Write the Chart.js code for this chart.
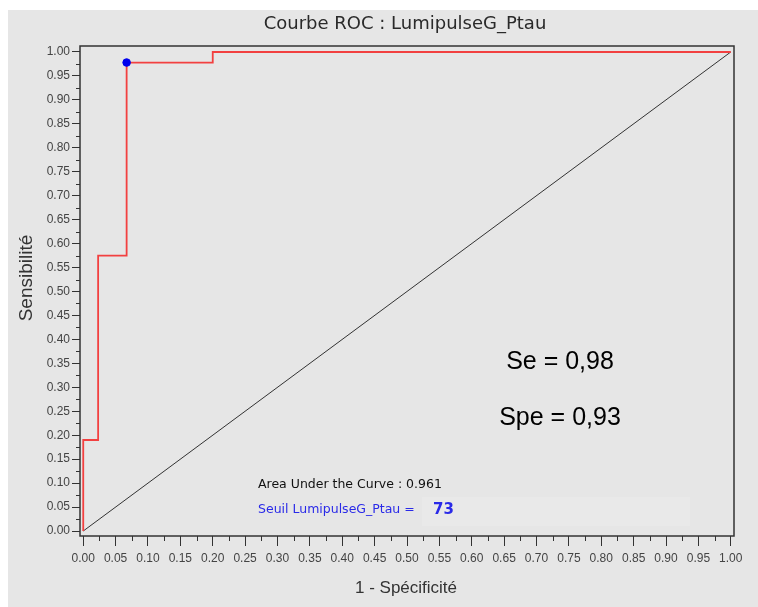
<!DOCTYPE html>
<html>
<head>
<meta charset="utf-8">
<script src="https://cdn.jsdelivr.net/npm/chart.js@4"></script>
<style>
  body { margin: 0; background: #fff; }
  #wrap { width: 758px; height: 607px; }
</style>
</head>
<body>
<div id="wrap"><canvas id="myChart" width="758" height="607"></canvas></div>
<script>
// ROC curve steps (1 - specificity, sensitivity)
const rocX = [0, 0, 0.023, 0.023, 0.067, 0.067, 0.2, 0.2, 1];
const rocY = [0, 0.19, 0.19, 0.575, 0.575, 0.978, 0.978, 1, 1];
// chance line
const diagX = [0, 1];
const diagY = [0, 1];
// chosen threshold
const cutX = [0.067];
const cutY = [0.978];
const tickLabels = ['0.00', '0.05', '0.10', '0.15', '0.20', '0.25', '0.30', '0.35', '0.40', '0.45', '0.50',
    '0.55', '0.60', '0.65', '0.70', '0.75', '0.80', '0.85', '0.90', '0.95', '1.00'];
const minorTicks = [0.025, 0.075, 0.125, 0.175, 0.225, 0.275, 0.325, 0.375, 0.425, 0.475,
    0.525, 0.575, 0.625, 0.675, 0.725, 0.775, 0.825, 0.875, 0.925, 0.975];

const pts = (xs, ys) => xs.map((x, i) => ({ x: x, y: ys[i] }));

// background, frame, minor ticks, texts
const decor = {
    id: 'decor',
    beforeDraw(chart) {
        const c = chart.ctx;
        c.save();
        c.fillStyle = '#ffffff';
        c.fillRect(0, 0, chart.width, chart.height);
        c.fillStyle = '#e6e6e6';
        c.fillRect(8, 10, chart.width - 8, chart.height - 10);
        c.fillStyle = '#e9e9e9';
        c.fillRect(422, 497, 268, 29);
        c.restore();
    },
    afterDraw(chart) {
        const c = chart.ctx;
        const a = chart.chartArea;
        const xs = chart.scales.x, ys = chart.scales.y;
        c.save();
        c.strokeStyle = '#333';
        c.lineWidth = 1.5;
        c.strokeRect(a.left, a.top, a.right - a.left, a.bottom - a.top);
        c.lineWidth = 1;
        c.beginPath();
        minorTicks.forEach(v => {
            const py = Math.round(ys.getPixelForValue(v)) + 0.5;
            c.moveTo(a.left - 4, py); c.lineTo(a.left, py);
            const px = Math.round(xs.getPixelForValue(v)) + 0.5;
            c.moveTo(px, a.bottom); c.lineTo(px, a.bottom + 5);
        });
        c.stroke();

        c.fillStyle = '#2a2a2a';
        c.textAlign = 'center';
        c.textBaseline = 'alphabetic';
        c.font = '18px "DejaVu Sans"';
        c.fillText('Courbe ROC : LumipulseG_Ptau', 405, 29);

        c.fillStyle = '#333';
        c.font = '17px "Liberation Sans", Arial';
        c.fillText('1 - Spécificité', 406, 593);
        c.save();
        c.translate(32, 278);
        c.rotate(-Math.PI / 2);
        c.font = '19px "Liberation Sans", Arial';
        c.fillText('Sensibilité', 0, 0);
        c.restore();

        c.fillStyle = '#000';
        c.font = '25px "Liberation Sans", Arial';
        c.fillText('Se = 0,98', 560, 369);
        c.fillText('Spe = 0,93', 560, 425);

        c.textAlign = 'left';
        c.font = '12.5px "DejaVu Sans"';
        c.fillStyle = '#111';
        c.fillText('Area Under the Curve : 0.961', 258, 488);
        c.fillStyle = '#2a2ae8';
        c.fillText('Seuil LumipulseG_Ptau =', 258, 513);
        c.font = 'bold 15px "DejaVu Sans"';
        c.fillText('73', 433, 514);
        c.restore();
    }
};

const data = {
    datasets: [
        {
            label: 'Seuil',
            data: pts(cutX, cutY),
            showLine: false,
            pointRadius: 3.8,
            pointBackgroundColor: '#0000ee',
            pointBorderColor: '#0000ee',
            order: 0
        },
        {
            label: 'ROC',
            data: pts(rocX, rocY),
            showLine: true,
            borderColor: '#f24040',
            borderWidth: 1.8,
            pointRadius: 0,
            tension: 0,
            order: 1
        },
        {
            label: 'Diagonale',
            data: pts(diagX, diagY),
            showLine: true,
            borderColor: '#333',
            borderWidth: 1,
            pointRadius: 0,
            order: 2
        }
    ]
};

const tickFont = { family: '"Liberation Sans", Arial', size: 12 };

const config = {
    type: 'scatter',
    data,
    options: {
        responsive: false,
        animation: false,
        layout: { padding: { left: 0, top: 46, right: 24, bottom: 0 } },
        plugins: {
            legend: { display: false },
            tooltip: { enabled: false }
        },
        scales: {
            x: {
                type: 'linear',
                min: -0.005,
                max: 1.005,
                afterBuildTicks: s => { s.ticks = tickLabels.map(t => ({ value: parseFloat(t) })); },
                afterFit: s => { s.height = 71; },
                ticks: {
                    font: tickFont,
                    color: '#444',
                    padding: 5,
                    maxRotation: 0,
                    autoSkip: false,
                    callback: (v) => v.toFixed(2)
                },
                grid: { drawOnChartArea: false, tickLength: 10, color: '#333', lineWidth: 1 },
                border: { display: false }
            },
            y: {
                type: 'linear',
                min: -0.0104,
                max: 1.0125,
                afterBuildTicks: s => { s.ticks = tickLabels.map(t => ({ value: parseFloat(t) })); },
                afterFit: s => { s.width = 80; },
                ticks: {
                    font: tickFont,
                    color: '#444',
                    padding: 2,
                    autoSkip: false,
                    callback: (v) => v.toFixed(2)
                },
                grid: { drawOnChartArea: false, tickLength: 8, color: '#333', lineWidth: 1 },
                border: { display: false }
            }
        }
    },
    plugins: [decor]
};

const myChart = new Chart(document.getElementById('myChart'), config);
</script>
</body>
</html>
